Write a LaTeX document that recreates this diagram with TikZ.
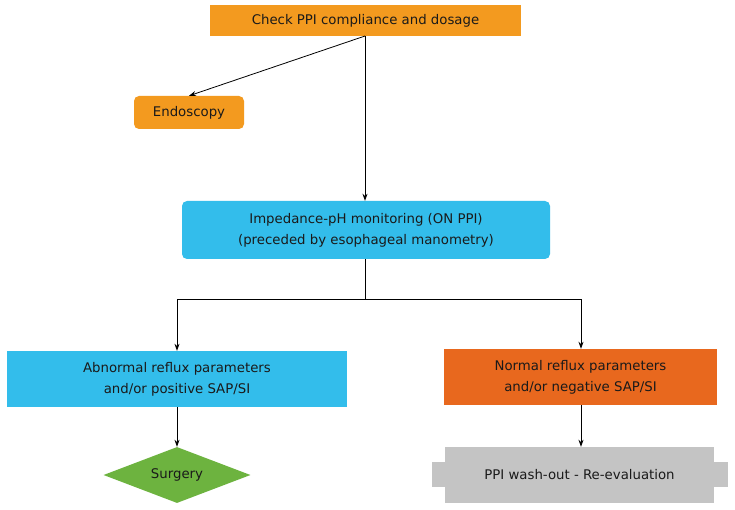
\documentclass[tikz,border=0pt]{standalone}
\usepackage{fontspec}
\setmainfont{DejaVu Sans}
\usetikzlibrary{shapes.geometric,arrows.meta}
\definecolor{orA}{HTML}{F39A1F}
\definecolor{orB}{HTML}{E8681E}
\definecolor{cyanA}{HTML}{33BDEB}
\definecolor{grnA}{HTML}{6DB33F}
\definecolor{grayA}{HTML}{C4C4C4}
\definecolor{txt}{HTML}{1A1A1A}
\begin{document}
\begin{tikzpicture}[x=1pt,y=-1pt,
  every node/.style={font=\fontsize{13.3}{21}\selectfont, text=txt, align=center, inner sep=0pt},
  conn/.style={draw=black, line width=0.8pt, -{Stealth[length=7pt,width=5pt]}},
  plain/.style={draw=black, line width=0.8pt}]
\useasboundingbox (0,0) rectangle (735,510);
\fill[white] (0,0) rectangle (735,510);
% nodes
\node[fill=orA, minimum width=311pt, minimum height=31pt] (check) at (365.5,20.5) {Check PPI compliance and dosage};
\node[fill=orA, rounded corners=5pt, minimum width=110pt, minimum height=33pt] (endo) at (189,112.5) {Endoscopy};
\node[fill=cyanA, rounded corners=5pt, minimum width=368pt, minimum height=58pt] (imp) at (366,230) {Impedance-pH monitoring (ON PPI)\\(preceded by esophageal manometry)};
\node[fill=cyanA, minimum width=340pt, minimum height=56pt] (abn) at (177,379) {Abnormal reflux parameters\\and/or positive SAP/SI};
\node[fill=orB, minimum width=273pt, minimum height=56pt] (norm) at (580.5,377) {Normal reflux parameters\\and/or negative SAP/SI};
\node[diamond, fill=grnA, aspect=2.62, minimum width=147pt, minimum height=56pt] (surg) at (177,475) {Surgery};
% wash-out shape
\fill[grayA] (432,462) rectangle (728,487);
\node[fill=grayA, minimum width=269pt, minimum height=56pt] (wash) at (579.5,475) {PPI wash-out - Re-evaluation};
% connectors
\coordinate (cs) at (365,36);
\coordinate (split) at (365,299);
\coordinate (sl) at (177,299);
\coordinate (sr) at (581,299);
\draw[conn] (cs) -- (endo.north);
\draw[conn] (cs) -- (imp.north -| cs);
\draw[plain] (imp.south -| split) -- (split);
\draw[plain] (sl) -- (sr);
\draw[conn] (sl) -- (abn.north -| sl);
\draw[conn] (sr) -- (norm.north -| sr);
\draw[conn] (abn.south) -- (surg.north);
\draw[conn] (norm.south -| sr) -- (wash.north -| sr);
\end{tikzpicture}
\end{document}
